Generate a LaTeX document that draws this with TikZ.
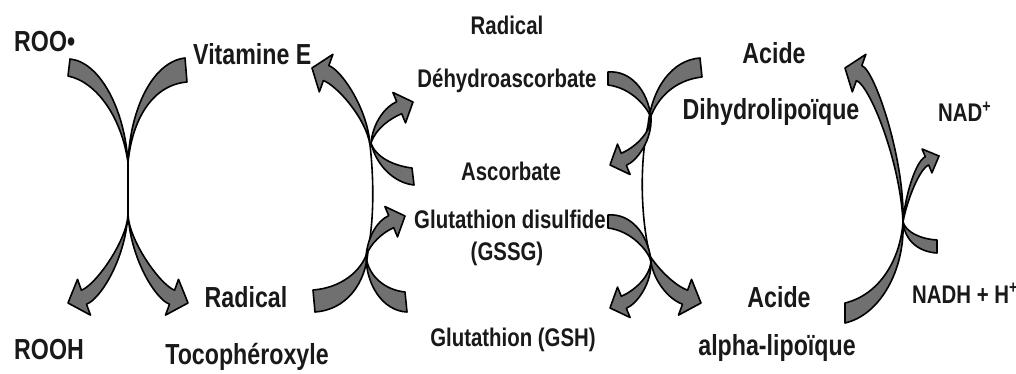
\documentclass[tikz,border=0pt]{standalone}
\usepackage{fontspec}
\setmainfont{Liberation Sans}[FakeStretch=0.8]
\definecolor{arrowgray}{RGB}{112,112,112}
\tikzset{
  blk/.style={fill=arrowgray, draw=black, line width=1.6pt, line join=round},
  big/.style={font=\fontsize{29}{34}\selectfont\bfseries, inner sep=0pt, text=black!90},
  small/.style={font=\fontsize{25.5}{30}\selectfont\bfseries, inner sep=0pt, text=black!90}
}
\begin{document}
\begin{tikzpicture}[x=1pt,y=-1pt]
\useasboundingbox (0,0) rectangle (1016,374);

% ---------- cycle 1 ----------
% ROO. -> Radical Tocopheroxyle
\draw[blk] (70,59) .. controls (100,62) and (125,110) .. (128,163) -- (128,213)
  .. controls (128,240) and (160.5,285.1) .. (174.6,290.2) -- (178.5,279.3) -- (188,303) -- (165.5,315.1) -- (169.5,304.2)
  .. controls (155.4,299.1) and (130,258) .. (128,213) -- (128,163)
  .. controls (122,118) and (97,82) .. (68,76) -- cycle;
% Vitamine E -> ROOH
\draw[blk] (185,58) .. controls (152,62) and (130,110) .. (128,163) -- (128,213)
  .. controls (128,240) and (95.5,285.1) .. (81.4,290.2) -- (77.5,279.3) -- (68,303) -- (90.5,315.1) -- (86.5,304.2)
  .. controls (100.6,299.1) and (126,258) .. (128,213) -- (128,163)
  .. controls (132,120) and (152,85) .. (187,82) -- cycle;

% ---------- cycle 2 ----------
% Radical Tocopheroxyle -> Vitamine E
\draw[blk] (313,290) .. controls (340,288) and (362,272) .. (368,250)
  .. controls (374,220) and (374,180) .. (370,145)
  .. controls (368,110) and (342,70.4) .. (328.8,65.6) -- (332.9,54.3) -- (312,68) -- (319.3,91.9) -- (323.4,80.6)
  .. controls (336.6,85.4) and (366,118) .. (370,145)
  .. controls (374,180) and (374,220) .. (368,250)
  .. controls (366,285) and (345,310) .. (315,312) -- cycle;
% Ascorbate -> Dehydroascorbate
\draw[blk] (412,168) .. controls (395,166) and (376,158) .. (371,143)
  .. controls (373,122) and (385.7,106.3) .. (396.7,101.7) -- (392.9,92.5) -- (413,102) -- (405.5,122.9) -- (401.7,113.7)
  .. controls (390.7,118.3) and (376,128) .. (371,143)
  .. controls (376,165) and (394,183) .. (414,185) -- cycle;
% GSH -> GSSG
\draw[blk] (405,292) .. controls (385,290) and (368,276) .. (366,256)
  .. controls (368,236) and (377.7,220.3) .. (388.7,215.7) -- (384.9,206.5) -- (405,216) -- (397.5,236.9) -- (393.7,227.7)
  .. controls (382.7,232.3) and (370,244) .. (366,256)
  .. controls (366,285) and (383,311) .. (407,312) -- cycle;

% ---------- cycle 3 ----------
% Acide dihydrolipoique -> Acide alpha-lipoique
\draw[blk] (700,58) .. controls (672,60) and (652,88) .. (648,125)
  .. controls (640,160) and (640,215) .. (650,256)
  .. controls (657,267) and (673.5,285.1) .. (687.6,290.2) -- (691.5,279.3) -- (701,303) -- (678.5,315.1) -- (682.5,304.2)
  .. controls (668.4,299.1) and (652,280) .. (650,256)
  .. controls (640,215) and (640,160) .. (648,125)
  .. controls (655,98) and (675,80) .. (702,77) -- cycle;
% Dehydroascorbate -> Ascorbate
\draw[blk] (608,72) .. controls (630,70) and (648,90) .. (651,118)
  .. controls (650,135) and (632.3,148.7) .. (621.3,153.3) -- (617.5,144.1) -- (610,165) -- (630.1,174.5) -- (626.3,165.3)
  .. controls (637.3,160.7) and (652,140) .. (651,118)
  .. controls (648,108) and (632,88) .. (608,85) -- cycle;
% GSSG -> GSH
\draw[blk] (608,215) .. controls (630,213) and (648,233) .. (651,261)
  .. controls (650,278) and (632.3,291.7) .. (621.3,296.3) -- (617.5,287.1) -- (610,308) -- (630.1,317.5) -- (626.3,308.3)
  .. controls (637.3,303.7) and (652,283) .. (651,261)
  .. controls (648,251) and (632,231) .. (608,228) -- cycle;

% ---------- cycle 4 ----------
% Acide alpha-lipoique -> Acide dihydrolipoique
\draw[blk] (845,303) .. controls (878,295) and (900,262) .. (903,222)
  .. controls (905,160) and (875,70.4) .. (861.8,65.6) -- (865.9,54.3) -- (845,68) -- (852.3,91.9) -- (856.4,80.6)
  .. controls (869.6,85.4) and (900,160) .. (903,222)
  .. controls (905,270) and (880,315) .. (845,323) -- cycle;
% NADH + H+ -> NAD+
\draw[blk] (937,240) .. controls (920,239) and (906,232) .. (903,222)
  .. controls (905,195) and (916.1,160.6) .. (925.3,156.8) -- (922.1,149) -- (939,156) -- (931.9,172.9) -- (928.7,165)
  .. controls (919.5,168.8) and (907,200) .. (903,222)
  .. controls (905,242) and (920,252) .. (937,253) -- cycle;

% ---------- labels ----------
\node[big, anchor=base west] (roo) at (14,52) {ROO•};
\node[big, anchor=base west] (vitE) at (193,65) {Vitamine E};
\node[big, anchor=base west] (rooh) at (14,359) {ROOH};
\node[big, anchor=base] (rad1) at (246,307) {Radical};
\node[big, anchor=base] (toco) at (247,364) {Tocophéroxyle};
\node[small, anchor=base] (rad2) at (507,35) {Radical};
\node[small, anchor=base] (dha) at (507,88) {Déhydroascorbate};
\node[small, anchor=base] (asc) at (511,181) {Ascorbate};
\node[small, anchor=base] (gssg1) at (510,228) {Glutathion disulfide};
\node[small, anchor=base] (gssg2) at (507,260) {(GSSG)};
\node[small, anchor=base] (gsh) at (513,346) {Glutathion (GSH)};
\node[big, anchor=base] (ac1) at (774,64) {Acide};
\node[big, anchor=base] (dhl) at (771,120) {Dihydrolipoïque};
\node[big, anchor=base] (ac2) at (779,307) {Acide};
\node[big, anchor=base] (ala) at (777,355) {alpha-lipoïque};
\node[small, anchor=base west] (nad) at (938,122) {NAD\textsuperscript{+}};
\node[small, anchor=base west] (nadh) at (912,303) {NADH + H\textsuperscript{+}};
\end{tikzpicture}
\end{document}
